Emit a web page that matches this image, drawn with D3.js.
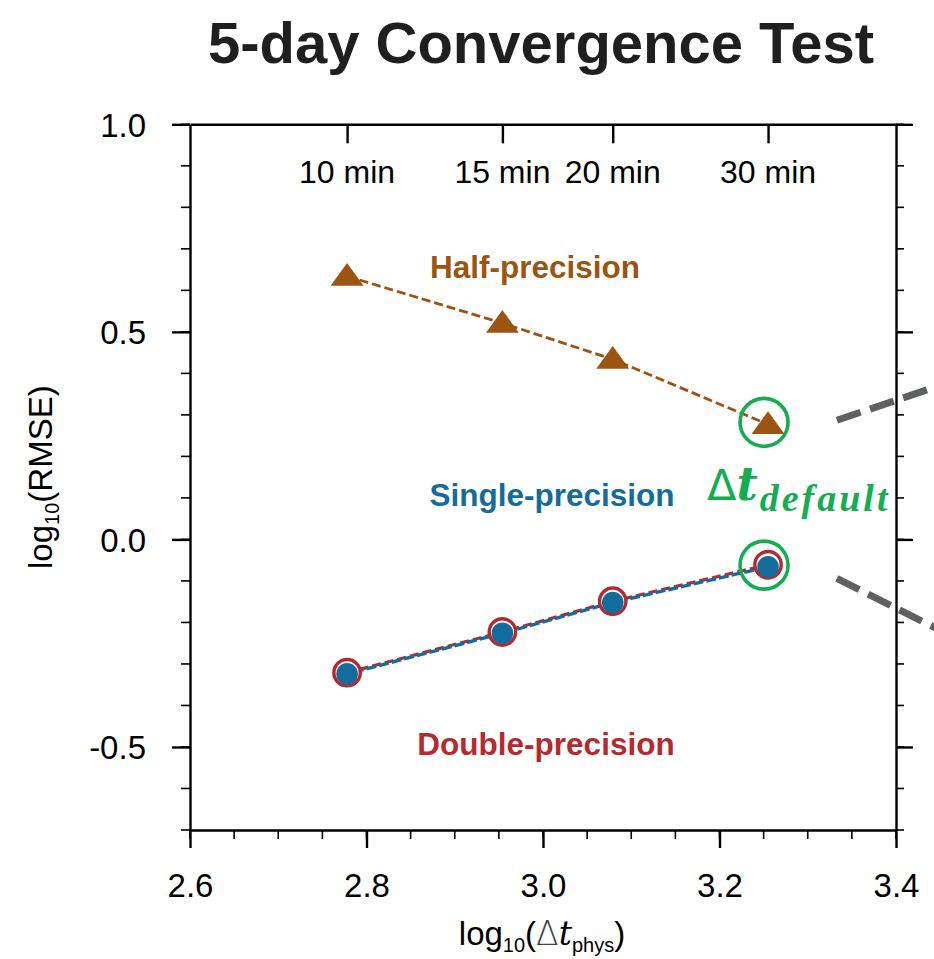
<!DOCTYPE html>
<html>
<head>
<meta charset="utf-8">
<script src="https://cdn.jsdelivr.net/npm/d3@7"></script>
<style>
  body { margin: 0; background: #fff; }
  text { font-family: "Liberation Sans", Arial, sans-serif; }
</style>
</head>
<body>
<svg id="chart" width="934" height="959"></svg>
<script>
// log10 of the physics time step (s): 600, 900, 1200, 1800
const logDt = [2.778, 2.954, 3.079, 3.255];
const minLabels = ["10 min", "15 min", "20 min", "30 min"];
// log10(RMSE)
const halfVals = [0.634, 0.521, 0.434, 0.277];
const singleVals = [-0.324, -0.226, -0.152, -0.066];
const doubleVals = [-0.321, -0.223, -0.149, -0.061];
const xTicks = [2.6, 2.8, 3.0, 3.2, 3.4];
const yTicks = [-0.5, 0.0, 0.5, 1.0];

const svg = d3.select("#chart");
const pLeft = 190, pRight = 896, pTop = 124.3, pBottom = 830;

const x = d3.scaleLinear().domain([2.6, 3.4]).range([pLeft, pRight]);
const y = d3.scaleLinear().domain([-0.7, 1.0]).range([pBottom, pTop]);
const fmt = d => d3.format(".1f")(d).replace("−", "-");

const colHalf = "#9b5510", colSingle = "#136c9b", colDouble = "#b52a2f", colGreen = "#14ad52";

// title
svg.append("text")
    .attr("x", 541).attr("y", 63)
    .attr("text-anchor", "middle")
    .attr("font-size", 58).attr("font-weight", "bold")
    .attr("fill", "#1f1f1f")
    .text("5-day Convergence Test");

//bottom axis
const xAxis = d3.axisBottom(x).tickValues(xTicks).tickFormat(fmt).tickSize(18).tickSizeOuter(0);
const gx = svg.append("g").attr("transform", "translate(0," + pBottom + ")").call(xAxis);
gx.selectAll("text").attr("font-size", 33).attr("dy", 0).attr("y", 67).attr("fill", "#000");
// minor x ticks
gx.selectAll(".minor").data(d3.range(2.6, 3.401, 0.05)).enter().append("line")
    .attr("x1", d => x(d)).attr("x2", d => x(d))
    .attr("y1", 0).attr("y2", 9).attr("stroke", "#000").attr("stroke-width", 1.6);

// left axis
const yAxis = d3.axisLeft(y).tickValues(yTicks).tickFormat(fmt).tickSize(18).tickSizeOuter(0);
const gy = svg.append("g").attr("transform", "translate(" + pLeft + ",0)").call(yAxis);
gy.selectAll("text").attr("font-size", 33).attr("x", -44).attr("dy", "0.36em").attr("fill", "#000");
gy.selectAll(".minor").data(d3.range(-0.7, 1.001, 0.1)).enter().append("line")
    .attr("x1", 0).attr("x2", -9)
    .attr("y1", d => y(d)).attr("y2", d => y(d)).attr("stroke", "#000").attr("stroke-width", 1.6);

// right axis (ticks only)
const yAxisR = d3.axisRight(y).tickValues(yTicks).tickFormat("").tickSize(17).tickSizeOuter(0);
const gr = svg.append("g").attr("transform", "translate(" + pRight + ",0)").call(yAxisR);
gr.selectAll(".minor").data(d3.range(-0.7, 1.001, 0.1)).enter().append("line")
    .attr("x1", 0).attr("x2", 8)
    .attr("y1", d => y(d)).attr("y2", d => y(d)).attr("stroke", "#000").attr("stroke-width", 1.6);

// top axis with minute ticks (inward)
const xAxisT = d3.axisTop(x).tickValues(logDt).tickFormat("").tickSize(-19).tickSizeOuter(0);
const gt = svg.append("g").attr("transform", "translate(0," + pTop + ")").call(xAxisT);

[gx, gy, gr, gt].forEach(g => {
    g.select(".domain").attr("stroke", "#000").attr("stroke-width", 2.4);
    g.selectAll(".tick line").attr("stroke", "#000").attr("stroke-width", 2.4);
});

// minute labels
svg.selectAll(".minlab").data(minLabels).enter().append("text")
    .attr("x", (d, i) => x(logDt[i])).attr("y", 183)
    .attr("text-anchor", "middle").attr("font-size", 32).attr("fill", "#000")
    .text(d => d);

// axis titles
const yt = svg.append("text")
    .attr("transform", "translate(52," + ((pTop + pBottom) / 2) + ") rotate(-90)")
    .attr("text-anchor", "middle").attr("font-size", 33).attr("fill", "#000");
yt.append("tspan").text("log");
yt.append("tspan").attr("font-size", 20).attr("dy", 7).text("10");
yt.append("tspan").attr("dy", -7).text("(RMSE)");

const xt = svg.append("text")
    .attr("x", 542).attr("y", 945)
    .attr("text-anchor", "middle").attr("font-size", 33).attr("fill", "#000");
xt.append("tspan").text("log");
xt.append("tspan").attr("font-size", 20).attr("dy", 7).text("10");
xt.append("tspan").attr("dy", -7).text("(");
xt.append("tspan").attr("font-family", "DejaVu Sans").attr("font-weight", 200).attr("fill", "#444").text("Δ");
xt.append("tspan").attr("font-family", "DejaVu Serif").attr("font-style", "italic").text("t");
xt.append("tspan").attr("font-size", 20).attr("dy", 7).text("phys");
xt.append("tspan").attr("dy", -7).text(")");

// lines and markers
const line = d3.line().x(d => x(d[0])).y(d => y(d[1]));
const halfPts = logDt.map((d, i) => [d, halfVals[i]]);
const singlePts = logDt.map((d, i) => [d, singleVals[i]]);
const doublePts = logDt.map((d, i) => [d, doubleVals[i]]);

svg.append("path").datum(doublePts).attr("d", line)
    .attr("fill", "none").attr("stroke", colDouble).attr("stroke-width", 3.2)
    .attr("stroke-dasharray", "9,4");
svg.append("path").datum(singlePts).attr("d", line)
    .attr("fill", "none").attr("stroke", colSingle).attr("stroke-width", 3.4)
    .attr("stroke-dasharray", "10,3").attr("stroke-dashoffset", 6);
svg.append("path").datum(halfPts).attr("d", line)
    .attr("fill", "none").attr("stroke", colHalf).attr("stroke-width", 2.8)
    .attr("stroke-dasharray", "9,4");

svg.selectAll(".dbl").data(doublePts).enter().append("circle")
    .attr("cx", d => x(d[0])).attr("cy", d => y(d[1])).attr("r", 13.2)
    .attr("fill", "#fff").attr("stroke", colDouble).attr("stroke-width", 3.4);
svg.selectAll(".sgl").data(singlePts).enter().append("circle")
    .attr("cx", d => x(d[0])).attr("cy", d => y(d[1])).attr("r", 10.8)
    .attr("fill", colSingle);

const tri = d3.symbol().type(d3.symbolTriangle).size(300);
svg.selectAll(".tri").data(halfPts).enter().append("path")
    .attr("d", tri)
    .attr("transform", d => "translate(" + x(d[0]) + "," + (y(d[1]) + 2) + ") scale(1.25,1)")
    .attr("fill", colHalf);

// series labels
svg.append("text").attr("x", 535).attr("y", 278).attr("text-anchor", "middle")
    .attr("font-size", 31.5).attr("font-weight", "bold").attr("fill", colHalf).text("Half-precision");
svg.append("text").attr("x", 552).attr("y", 506).attr("text-anchor", "middle")
    .attr("font-size", 31.5).attr("font-weight", "bold").attr("fill", colSingle).text("Single-precision");
svg.append("text").attr("x", 546).attr("y", 755).attr("text-anchor", "middle")
    .attr("font-size", 31.5).attr("font-weight", "bold").attr("fill", colDouble).text("Double-precision");

// default time step highlight
const last = logDt.length - 1;
[halfVals[last] + 0.005, singleVals[last] + 0.004].forEach(v => {
    svg.append("circle").attr("cx", x(logDt[last]) - 4).attr("cy", y(v)).attr("r", 24)
        .attr("fill", "none").attr("stroke", colGreen).attr("stroke-width", 3.6);
});
const dt = svg.append("text").attr("x", 707).attr("y", 500).attr("fill", colGreen);
dt.append("tspan").attr("font-family", "DejaVu Sans").attr("font-size", 43).text("Δ");
dt.append("tspan").attr("font-family", "DejaVu Serif").attr("font-style", "italic")
    .attr("font-weight", "bold").attr("font-size", 46).text("t");
dt.append("tspan").attr("font-family", "Liberation Serif").attr("font-style", "italic")
    .attr("font-weight", "bold").attr("font-size", 38).attr("dy", 11).attr("dx", 2)
    .attr("letter-spacing", 3).text("default");

// zoom-out guide lines to the neighbouring panel
const guides = [[[3.333, 0.287], [3.5, 0.407]], [[3.333, -0.094], [3.5, -0.272]]];
guides.forEach(g => {
    svg.append("path").datum(g).attr("d", line)
        .attr("fill", "none").attr("stroke", "#5f6062").attr("stroke-width", 7)
        .attr("stroke-dasharray", "25,10");
});
</script>
</body>
</html>
